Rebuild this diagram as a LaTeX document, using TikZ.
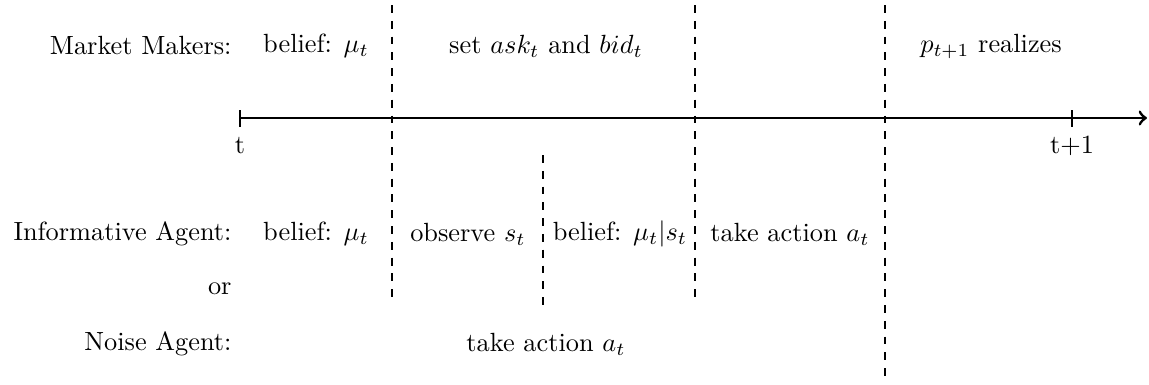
\documentclass[tikz,border=0pt]{standalone}
\begin{document}
\begin{tikzpicture}[x=0.38pt,y=-0.38pt,
  lbl/.style={anchor=east,inner sep=0pt},
  txt/.style={inner sep=0pt},
  sep/.style={dashed,thin},
  tick/.style={thin}]
\useasboundingbox (0,0) rectangle (1149,384);
% axis
\coordinate (a0) at (240,118);
\coordinate (a1) at (1147,118);
\draw[line width=1.1pt,->] (a0) -- (a1);
\coordinate (t0a) at (240,110); \coordinate (t0b) at (240,127);
\coordinate (t1a) at (1072,110); \coordinate (t1b) at (1072,127);
\draw[tick] (t0a) -- (t0b);
\draw[tick] (t1a) -- (t1b);
\node[txt] (tl) at (240,146) {t};
\node[txt] (tl1) at (1072,146) {t+1};
% dashed separators
\coordinate (d1a) at (392,5); \coordinate (d1b) at (392,300);
\coordinate (d2a) at (695,5); \coordinate (d2b) at (695,300);
\coordinate (d3a) at (885,5); \coordinate (d3b) at (885,382);
\coordinate (d4a) at (543,155); \coordinate (d4b) at (543,306);
\draw[sep] (d1a) -- (d1b);
\draw[sep] (d2a) -- (d2b);
\draw[sep] (d3a) -- (d3b);
\draw[sep] (d4a) -- (d4b);
% market makers row
\node[lbl] (mm) at (232,46) {Market Makers:};
\node[txt] (mm1) at (316,46) {belief: $\mu_t$};
\node[txt] (mm2) at (546,46) {set $ask_t$ and $bid_t$};
\node[txt] (mm3) at (991,46) {$p_{t+1}$ realizes};
% informative agent row
\node[lbl] (ia) at (232,234) {Informative Agent:};
\node[txt] (ia1) at (316,234) {belief: $\mu_t$};
\node[txt] (ia2) at (468,234) {observe $s_t$};
\node[txt] (ia3) at (620,234) {belief: $\mu_t|s_t$};
\node[txt] (ia4) at (790,234) {take action $a_t$};
\node[lbl] (or) at (232,289) {or};
% noise agent row
\node[lbl] (na) at (232,344) {Noise Agent:};
\node[txt] (na1) at (546,344) {take action $a_t$};
\end{tikzpicture}
\end{document}
